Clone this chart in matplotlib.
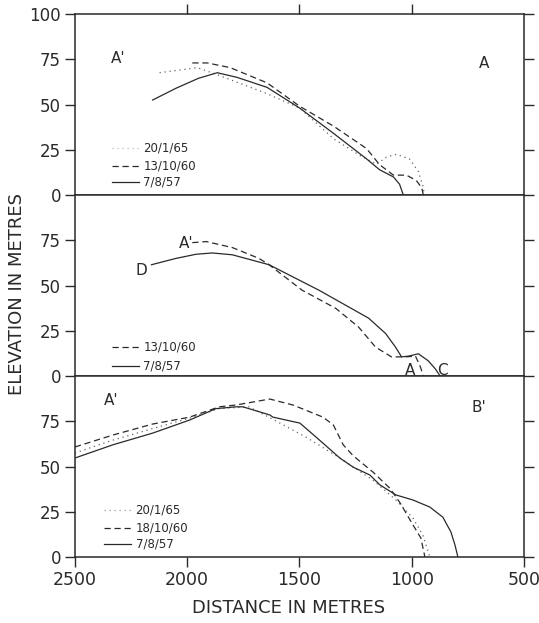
import numpy as np
import matplotlib.pyplot as plt

# profile A'-A (top panel)
a_57_x = [2154, 2050, 1950, 1866, 1777, 1644, 1498, 1347, 1201, 1143, 1081, 1054, 1037]
a_57_y = [52.5, 59, 64.5, 67.6, 65, 59.5, 48, 34, 20, 14, 10, 6, 0]
a_60_x = [1977, 1910, 1808, 1644, 1498, 1347, 1201, 1143, 1081, 1023, 979, 955, 948]
a_60_y = [73, 73, 70.4, 62, 49, 38, 25.7, 16.8, 11, 11, 8, 4, 0]
a_65_x = [2123, 1955, 1866, 1644, 1498, 1347, 1232, 1156, 1112, 1068, 1010, 970, 950, 943]
a_65_y = [67.6, 70.4, 66.5, 56, 48, 31, 22, 17, 21, 22.5, 20, 13, 5, 0]

# profile D-C (middle panel)
d_57_x = [2159, 2050, 1960, 1888, 1799, 1635, 1414, 1192, 1116, 1072, 1045, 1014, 970, 926, 895, 873]
d_57_y = [61.5, 65, 67.3, 68, 67, 61.5, 47.5, 32, 23.5, 16, 10.6, 11, 12.3, 8.4, 4, 0]
d_60_x = [1977, 1915, 1799, 1680, 1635, 1489, 1338, 1236, 1161, 1090, 1027, 983, 961, 948]
d_60_y = [73.7, 74.3, 71, 65, 61.5, 47.5, 37.4, 27, 16, 10.6, 10.6, 11, 5, 0]

# profile A'-B' (bottom panel)
b_57_x = [2500, 2331, 2153, 1989, 1872, 1782, 1752, 1632, 1618, 1498, 1426, 1320, 1261, 1186,
          1141, 1070, 994, 919, 861, 825, 807, 794]
b_57_y = [54.7, 62, 68.5, 75.7, 82, 83, 83, 78.5, 77.3, 74, 66.3, 54.7, 49.7, 45.3,
          39.8, 34.3, 31.5, 27.6, 22, 13.8, 6.6, 0]
b_60_x = [2500, 2331, 2153, 1989, 1857, 1782, 1632, 1529, 1395, 1349, 1305, 1261, 1173,
          1097, 1052, 994, 959, 941]
b_60_y = [60.8, 67.4, 73.5, 77.3, 83, 84, 87.3, 84, 77.3, 73, 62, 56, 47,
          38, 30, 17.7, 10.5, 0]
b_65_x = [2500, 2331, 2153, 1989, 1857, 1724, 1632, 1471, 1320, 1173, 1070, 994, 950, 919]
b_65_y = [57.5, 64.6, 71, 76.8, 82, 83, 77, 66.3, 54.7, 42.5, 31.5, 21.5, 12, 0]

ink = '#2a2a2a'
solid = dict(color=ink, lw=0.9)
dashed = dict(color=ink, lw=0.9, ls=(0, (5, 3)))
dotted = dict(color='#666666', lw=0.9, ls=(0, (1, 3)))

fig = plt.figure(figsize=(5.39, 6.23), dpi=100)
left, width = 0.139, 0.833
bottom, h = 0.1059, 0.2905

axes = []
for i in range(3):
    ax = fig.add_axes([left, bottom + (2 - i) * h, width, h])
    ax.set_xlim(2500, 500)
    ax.set_ylim(0, 100)
    for s in ax.spines.values():
        s.set_color(ink)
        s.set_linewidth(1.1)
    ax.tick_params(direction='out', length=7, width=1, color=ink,
                   labelsize=12, labelcolor=ink, pad=3)
    ax.set_yticks([0, 25, 50, 75])
    axes.append(ax)

ax1, ax2, ax3 = axes

# top panel
ax1.plot(a_65_x, a_65_y, **dotted)
ax1.plot(a_60_x, a_60_y, **dashed)
ax1.plot(a_57_x, a_57_y, **solid)
ax1.set_yticks([0, 25, 50, 75, 100])
ax1.set_xticks([2000, 1500, 1000])
ax1.tick_params(axis='x', bottom=False, labelbottom=False, top=True, labeltop=False)
ax1.text(2340, 73, "A'", fontsize=11, color=ink)
ax1.text(700, 70, "A", fontsize=11, color=ink)

# middle panel
ax2.plot(d_60_x, d_60_y, **dashed)
ax2.plot(d_57_x, d_57_y, **solid)
ax2.tick_params(axis='x', bottom=False, labelbottom=False)
ax2.text(2230, 56, "D", fontsize=11, color=ink)
ax2.text(2035, 71, "A'", fontsize=11, color=ink)
ax2.text(1030, 0.5, "A", fontsize=11, color=ink)
ax2.text(885, 0.5, "C", fontsize=11, color=ink)

# bottom panel
ax3.plot(b_65_x, b_65_y, **dotted)
ax3.plot(b_60_x, b_60_y, **dashed)
ax3.plot(b_57_x, b_57_y, **solid)
ax3.set_xticks([2500, 2000, 1500, 1000, 500])
ax3.tick_params(axis='x', labelsize=12.5)
ax3.text(2370, 84, "A'", fontsize=11, color=ink)
ax3.text(735, 80, "B'", fontsize=11, color=ink)

# right side ticks without labels
for ax in axes:
    ax.tick_params(axis='y', right=True, labelright=False)

# hand drawn style legends
def key(ax, x0, rows):
    for y, style, label in rows:
        ax.plot([x0, x0 - 120], [y, y], **style)
        ax.text(x0 - 140, y, label, fontsize=8.5, color=ink, va='center')

key(ax1, 2335, [(26, dict(color='#bbbbbb', lw=0.9, ls=(0, (1, 3))), '20/1/65'),
                (16, dashed, '13/10/60'),
                (7, solid, '7/8/57')])
key(ax2, 2335, [(16, dashed, '13/10/60'),
                (5.5, solid, '7/8/57')])
key(ax3, 2370, [(26, dict(color='#999999', lw=0.9, ls=(0, (1, 3))), '20/1/65'),
                (16, dashed, '18/10/60'),
                (7, solid, '7/8/57')])

fig.text(0.032, 1 - 294 / 623, 'ELEVATION IN METRES', rotation=90,
         fontsize=13, color=ink, ha='center', va='center')
fig.text(left + width * 0.5 - 0.02, 1 - 608 / 623, 'DISTANCE IN METRES',
         fontsize=13, color=ink, ha='center', va='center')

fig.savefig('out.png', dpi=100, facecolor='white')
